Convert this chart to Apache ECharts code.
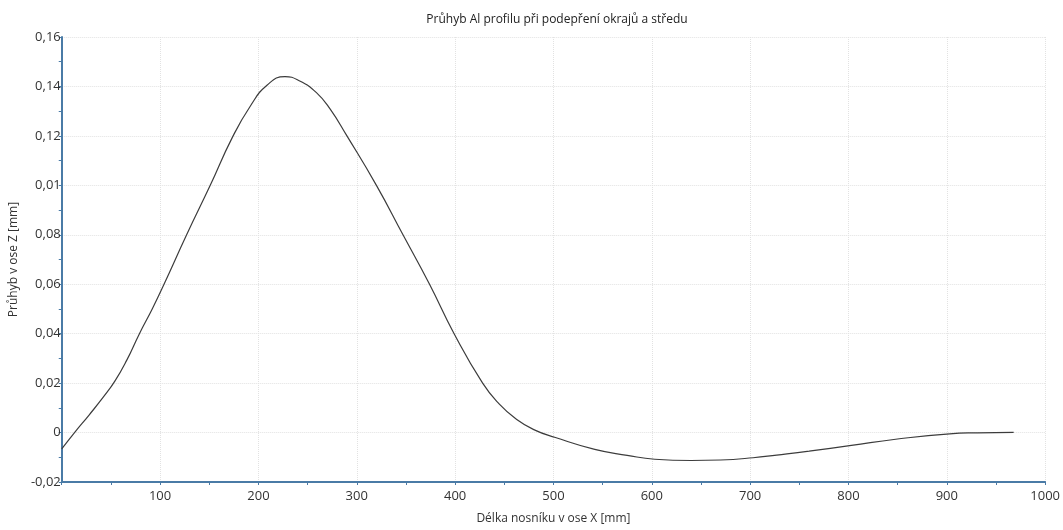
<!DOCTYPE html>
<html>
<head>
<meta charset="utf-8">
<script src="https://cdn.jsdelivr.net/npm/echarts@6/dist/echarts.min.js"></script>
<style>
html,body{margin:0;padding:0;background:#fff;}
#chart{width:1063px;height:530px;}
</style>
</head>
<body>
<div id="chart"></div>
<script>
// Data
var xValues = [0, 13, 28, 42, 54, 66, 79, 92, 104, 127, 151, 173, 192, 209, 227, 242, 259, 273, 290, 320, 347, 374, 399, 428, 445, 462, 480, 502, 542, 575, 603, 640, 670, 703, 727, 760, 803, 848, 903, 931, 968];
var zValues = [-0.0066, 0.0000, 0.0072, 0.0142, 0.0208, 0.0292, 0.0400, 0.0500, 0.0600, 0.0800, 0.1000, 0.1190, 0.1322, 0.1406, 0.1440, 0.1422, 0.1375, 0.1308, 0.1200, 0.1000, 0.0800, 0.0600, 0.0400, 0.0200, 0.0115, 0.0055, 0.0012, -0.0020, -0.0068, -0.0092, -0.0108, -0.0113, -0.0111, -0.0102, -0.0091, -0.0075, -0.0052, -0.0027, -0.0005, -0.0001, 0.0001];
var yTickLabels = ['-0,02', '0', '0,02', '0,04', '0,06', '0,08', '0,01', '0,12', '0,14', '0,16'];
var xTickLabels = ['', '100', '200', '300', '400', '500', '600', '700', '800', '900', '1000'];
var titleText = 'Průhyb Al profilu při podepření okrajů a středu';
var xName = 'Délka nosníku v ose X [mm]';
var yName = 'Průhyb v ose Z [mm]';

var points = xValues.map(function (x, i) { return [x, zValues[i]]; });
var font = 'Open Sans';
var axisColor = '#4a7ba6';

var chart = echarts.init(document.getElementById('chart'), null, {renderer: 'canvas'});
chart.setOption({
  animation: false,
  backgroundColor: '#ffffff',
  title: {
    text: titleText,
    left: 552, top: 9, textAlign: 'center',
    textStyle: {fontFamily: font, fontSize: 12, fontWeight: 'normal', color: '#222'}
  },
  grid: {left: 60, right: 16, top: 37, bottom: 46, containLabel: false},
  xAxis: {
    type: 'value', min: 0, max: 1000, interval: 100,
    name: xName, nameLocation: 'middle', nameGap: 31,
    nameTextStyle: {fontFamily: font, fontSize: 12, color: '#333'},
    axisLine: {show: true, onZero: false, lineStyle: {color: axisColor, width: 2}},
    axisTick: {show: true, inside: false, length: 3, lineStyle: {color: axisColor}},
    minorTick: {show: true, splitNumber: 2, length: 3, lineStyle: {color: axisColor}},
    axisLabel: {
      fontFamily: font, fontSize: 13, color: '#333', margin: 8,
      formatter: function (v) { return xTickLabels[Math.round(v / 100)]; }
    },
    splitLine: {show: true, lineStyle: {color: '#e2e2e2', type: 'dotted', width: 1}}
  },
  yAxis: {
    type: 'value', min: -0.02, max: 0.16, interval: 0.02,
    name: yName, nameLocation: 'middle', nameGap: 36, nameRotate: 90,
    nameTextStyle: {fontFamily: font, fontSize: 12, color: '#333'},
    axisLine: {show: true, onZero: false, lineStyle: {color: axisColor, width: 2}},
    axisTick: {show: true, inside: false, length: 3, lineStyle: {color: axisColor}},
    minorTick: {show: true, splitNumber: 2, length: 3, lineStyle: {color: axisColor}},
    axisLabel: {
      fontFamily: font, fontSize: 13, color: '#333', margin: 1,
      formatter: function (v) { return yTickLabels[Math.round((v + 0.02) / 0.02)]; }
    },
    splitLine: {show: true, lineStyle: {color: '#e2e2e2', type: 'dotted', width: 1}}
  },
  series: [{
    type: 'line', data: points, smooth: 0.5, showSymbol: false,
    lineStyle: {color: '#3c3c3c', width: 1.2}
  }]
});
</script>
</body>
</html>
